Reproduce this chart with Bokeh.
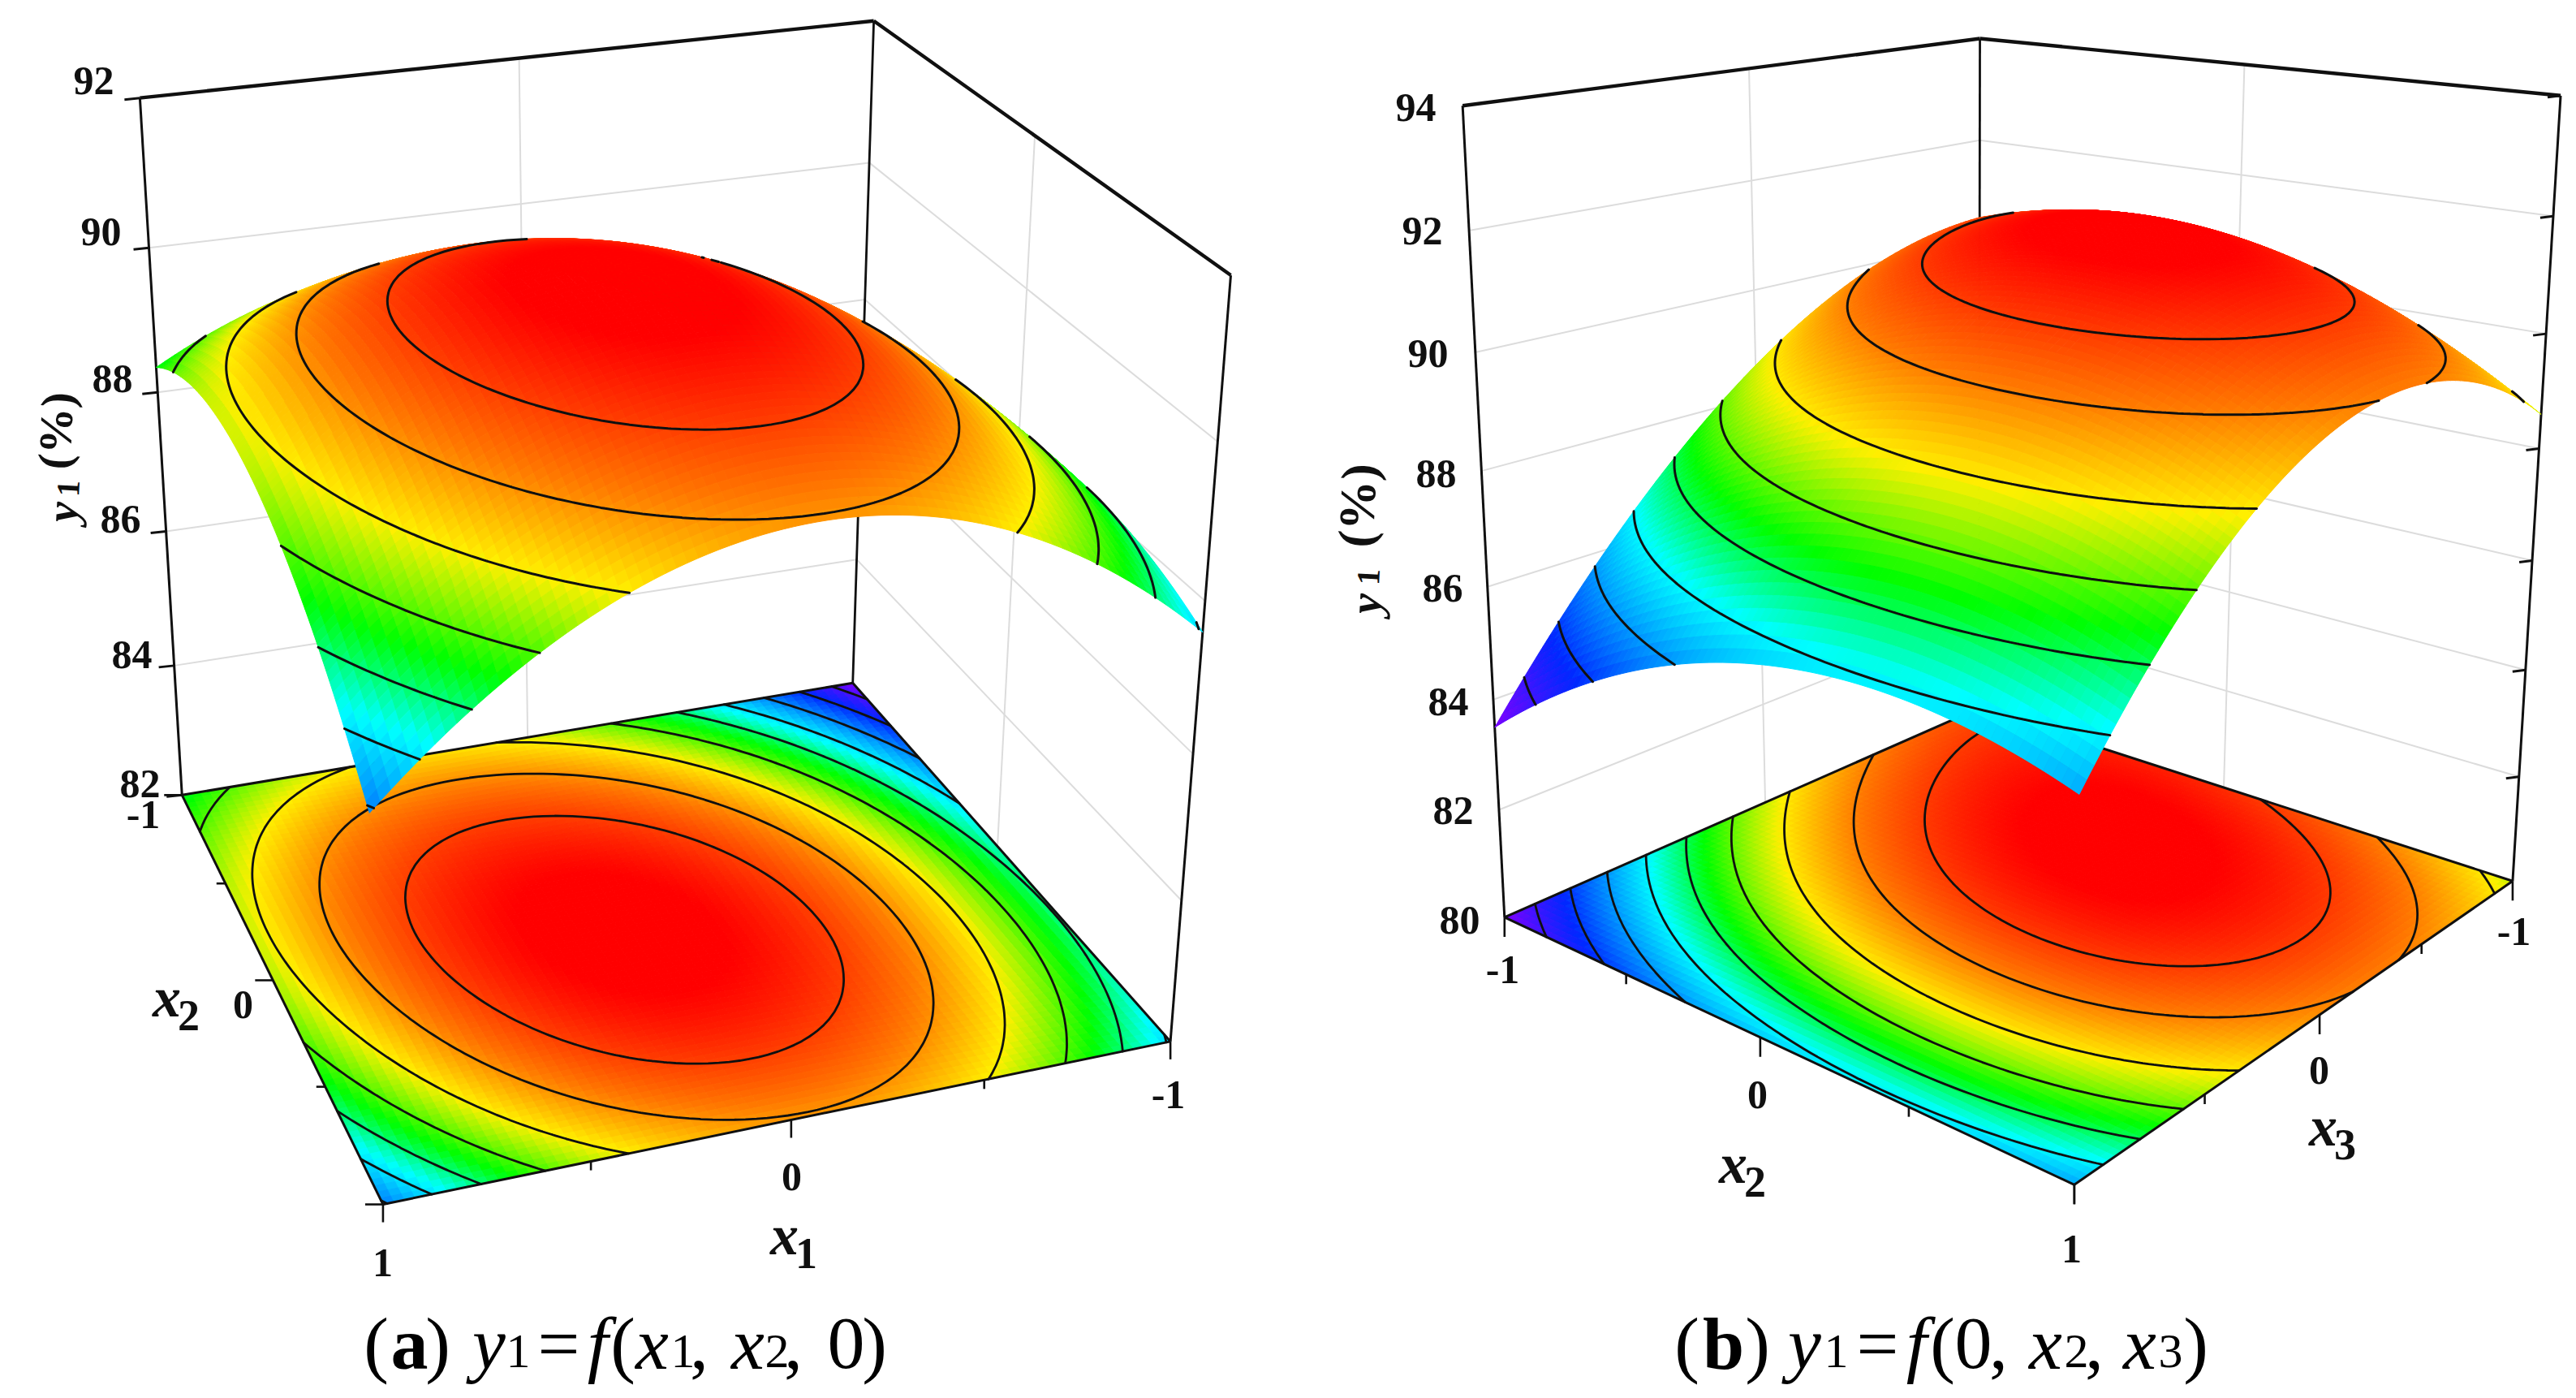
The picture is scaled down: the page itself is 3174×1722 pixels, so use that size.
import numpy as np
from bokeh.plotting import figure
from bokeh.models import Range1d
from bokeh.core.properties import value
from bokeh.embed import file_html
from bokeh.resources import INLINE

# ---- data ----------------------------------------------------------------
# panel (a): rows x1=-1,0,1 ; columns x2=-1,0,1
z_a = [[85.8, 87.95, 87.6],
       [89.15, 90.9, 89.75],
       [88.35, 89.0, 87.1]]
levels_a = [90.35, 89.8, 89.25, 88.7, 88.15, 87.65, 87.15, 86.65, 86.15]
zticks_a = [82, 84, 86, 88, 90, 92]
# panel (b): rows x2=-1,0,1 ; columns x3=-1,0,1
z_b = [[90.45, 88.6, 83.5],
       [90.8, 90.95, 86.2],
       [88.6, 89.75, 85.9]]
levels_b = [90.65, 89.9, 88.95, 88.1, 87.3, 86.54, 85.76, 84.98, 84.2]
zticks_b = [80, 82, 84, 86, 88, 90, 92, 94]
range_a = (85.8, 90.8)
range_b = (83.5, 91.3)

# ---- screen layout of the two boxes: (u, v, z) -> pixel --------------------
corners_a = [(1, -1, 92, 172, 120), (-1, -1, 92, 1076, 25), (-1, 1, 92, 1516, 339),
             (1, -1, 82, 224, 979), (-1, -1, 82, 1050, 841), (-1, 1, 82, 1442, 1282),
             (1, 1, 82, 471, 1483)]
corners_b = [(-1, 1, 94, 1801, 129), (-1, -1, 94, 2440, 47), (1, -1, 94, 3154, 118),
             (-1, 1, 80, 1855, 1130), (-1, -1, 80, 2436, 872), (1, -1, 80, 3097, 1084),
             (1, 1, 80, 2554, 1459)]

STOPS_T = [0.0, 0.17, 0.40, 0.53, 0.69, 0.83, 1.0]
STOPS_C = np.array([(128, 0, 255), (0, 40, 255), (0, 255, 255), (0, 255, 0),
                    (255, 240, 0), (255, 120, 0), (255, 0, 0)], float)


def cmap(z, rng):
    t = np.clip((np.asarray(z) - rng[0]) / (rng[1] - rng[0]), 0, 1)
    c = [np.interp(t, STOPS_T, STOPS_C[:, k]) for k in range(3)]
    return ["#%02x%02x%02x" % (int(r), int(g), int(b)) for r, g, b in zip(*[np.ravel(a) for a in c])]


class Cam:
    def __init__(self, pts, z0, z1):
        self.z0, self.z1 = z0, z1
        A = []
        for u, v, z, x, y in pts:
            Z = self.nz(z)
            A.append([u, v, Z, 1, 0, 0, 0, 0, -x * u, -x * v, -x * Z, -x])
            A.append([0, 0, 0, 0, u, v, Z, 1, -y * u, -y * v, -y * Z, -y])
        P = np.linalg.svd(np.array(A, float))[2][-1].reshape(3, 4)
        if P[2, 3] < 0:
            P = -P
        self.P = P

    def nz(self, z):
        return (np.asarray(z, float) - self.z0) / (self.z1 - self.z0) * 2 - 1

    def project(self, u, v, z):
        u, v, z = np.broadcast_arrays(np.asarray(u, float), np.asarray(v, float), self.nz(z))
        h = np.stack([u, v, z, np.ones_like(u)], axis=-1) @ self.P.T
        return h[..., 0] / h[..., 2], h[..., 1] / h[..., 2], h[..., 2]


def surface(T, u, v):
    def basis(t):
        return np.stack([t * (t - 1) / 2, 1 - t * t, t * (t + 1) / 2], axis=-1)
    return basis(u) @ np.asarray(T, float) @ basis(v).T


def contour(u, v, Z, levels):
    segs = []
    n, m = Z.shape
    for L in levels:
        above = Z >= L
        for i in range(n - 1):
            for j in range(m - 1):
                s = int(above[i, j]) + int(above[i + 1, j]) + int(above[i + 1, j + 1]) + int(above[i, j + 1])
                if s == 0 or s == 4:
                    continue
                pts = []
                for (a, b, c, d) in ((i, j, i + 1, j), (i + 1, j, i + 1, j + 1),
                                     (i + 1, j + 1, i, j + 1), (i, j + 1, i, j)):
                    if above[a, b] != above[c, d]:
                        f = (L - Z[a, b]) / (Z[c, d] - Z[a, b])
                        pts.append((u[a] + f * (u[c] - u[a]), v[b] + f * (v[d] - v[b])))
                for k in range(0, len(pts) - 1, 2):
                    segs.append((pts[k], pts[k + 1], L, i, j))
    return segs


def draw_mesh(p, cam, u, v, Zval, Zgeom, rng):
    X, Y, W = cam.project(u[:, None], v[None, :], Zgeom)
    xs, ys, cols, depth = [], [], [], []
    cc = cmap((Zval[:-1, :-1] + Zval[1:, :-1] + Zval[:-1, 1:] + Zval[1:, 1:]) / 4, rng)
    k = 0
    for i in range(len(u) - 1):
        for j in range(len(v) - 1):
            xs.append([X[i, j], X[i + 1, j], X[i + 1, j + 1], X[i, j + 1]])
            ys.append([Y[i, j], Y[i + 1, j], Y[i + 1, j + 1], Y[i, j + 1]])
            depth.append(W[i, j] + W[i + 1, j + 1])
            cols.append(cc[k])
            k += 1
    order = np.argsort(depth)[::-1]
    p.patches([xs[o] for o in order], [ys[o] for o in order],
              fill_color=[cols[o] for o in order], line_color=[cols[o] for o in order], line_width=1.0)
    return X, Y


def signed_area(X, Y, i, j):
    xq = [X[i, j], X[i + 1, j], X[i + 1, j + 1], X[i, j + 1]]
    yq = [Y[i, j], Y[i + 1, j], Y[i + 1, j + 1], Y[i, j + 1]]
    return sum(xq[k] * yq[(k + 1) % 4] - xq[(k + 1) % 4] * yq[k] for k in range(4))


def draw_contours(p, cam, segs, zfn, X=None, Y=None, sign=None, width=2.6):
    xs, ys = [], []
    for (a, b, L, i, j) in segs:
        if X is not None and signed_area(X, Y, i, j) * sign <= 0:
            continue
        x, y, _ = cam.project([a[0], b[0]], [a[1], b[1]], [zfn(L), zfn(L)])
        xs += [x[0], x[1], np.nan]
        ys += [y[0], y[1], np.nan]
    p.line(xs, ys, line_color="#101010", line_width=width, line_cap="round")


p = figure(width=3158, height=1706, x_range=Range1d(0, 3158), y_range=Range1d(1706, 0),
           output_backend="svg", toolbar_location=None, min_border=0,
           x_axis_location=None, y_axis_location=None)
p.outline_line_color = None
p.grid.visible = False

SERIF = value("Liberation Serif")


def label(x, y, s, size=50, style="bold", angle=0.0, color="#101010", baseline="middle"):
    p.text([x], [y], text=[s], text_font=SERIF, text_font_size=f"{size}px", text_font_style=style,
           text_align="center", text_baseline=baseline, angle=angle, text_color=color)


GRID = "#dcdcdc"


def panel(T, levels, zticks, corners, rng, u_tick_dir, v_tick_dir, z_tick):
    z0, z1 = zticks[0], zticks[-1]
    cam = Cam(corners, z0, z1)
    lines = lambda a, b, **k: p.line(*cam.project(*[[a[q], b[q]] for q in range(3)])[:2], **k)
    for z in zticks[1:-1]:
        lines((1, -1, z), (-1, -1, z), line_color=GRID, line_width=2)
        lines((-1, -1, z), (-1, 1, z), line_color=GRID, line_width=2)
    lines((0, -1, z0), (0, -1, z1), line_color=GRID, line_width=2)
    lines((-1, 0, z0), (-1, 0, z1), line_color=GRID, line_width=2)
    lines((-1, -1, z0), (-1, -1, z1), line_color="#101010", line_width=2.8)
    lines((1, -1, z0), (1, -1, z1), line_color="#101010", line_width=3)
    lines((-1, 1, z0), (-1, 1, z1), line_color="#101010", line_width=3)
    lines((1, -1, z1), (-1, -1, z1), line_color="#101010", line_width=4.4)
    lines((-1, -1, z1), (-1, 1, z1), line_color="#101010", line_width=4.4)
    for z in zticks:
        x, y, _ = cam.project(1, -1, z)
        p.line([float(x) - z_tick, float(x)], [float(y) + 2, float(y)], line_color="#101010", line_width=3)
    n = 80
    u = np.linspace(-1, 1, n + 1)
    v = np.linspace(-1, 1, n + 1)
    Z = surface(T, u, v)
    fx, fy = draw_mesh(p, cam, u, v, Z, np.full_like(Z, z0), rng)
    segs = contour(u, v, Z, levels)
    draw_contours(p, cam, segs, lambda L: z0, width=2.8)
    for a, b in (((1, -1), (1, 1)), ((1, 1), (-1, 1)), ((-1, 1), (-1, -1)), ((-1, -1), (1, -1))):
        lines((*a, z0), (*b, z0), line_color="#101010", line_width=3)
    for t in (-1, -.5, 0, .5, 1):
        L = 1.0 if t in (-1, 0, 1) else 0.5
        x, y, _ = cam.project(t, 1, z0)
        p.line([float(x), float(x) + u_tick_dir[0] * L], [float(y), float(y) + u_tick_dir[1] * L],
               line_color="#101010", line_width=2.6)
        x, y, _ = cam.project(1, t, z0)
        p.line([float(x), float(x) + v_tick_dir[0] * L], [float(y), float(y) + v_tick_dir[1] * L],
               line_color="#101010", line_width=2.6)
    sx, sy = draw_mesh(p, cam, u, v, Z, Z, rng)
    sign = np.sign(signed_area(fx, fy, n // 2, n // 2))
    draw_contours(p, cam, segs, lambda L: L, sx, sy, sign, width=3.0)


panel(z_a, levels_a, zticks_a, corners_a, range_a, (0, 22), (-22, 0), 19)
panel(z_b, levels_b, zticks_b, corners_b, range_b, (0, 24), (0, 24), 16)

# ---- tick labels ---------------------------------------------------------
for s, x, y in zip(zticks_a[::-1], [115, 124, 138, 148, 162, 172], [99, 285, 466, 639, 806, 965]):
    label(x, y, str(s))
for s, x, y in zip(zticks_b[::-1], [1744, 1752, 1759, 1769, 1777, 1784, 1790, 1798],
                   [132, 284, 435, 583, 724, 864, 998, 1133]):
    label(x, y, str(s))
for s, x, y in [("-1", 176, 1003), ("0", 299, 1237), ("0", 975, 1449), ("1", 471, 1555), ("-1", 1439, 1348),
                ("-1", 1851, 1194), ("0", 2165, 1348), ("1", 2552, 1538), ("0", 2857, 1318), ("-1", 3097, 1147)]:
    label(x, y, s)


def axis_name(x, y, base, sub):
    label(x, y, base, size=70, style="bold italic")
    label(x + 27, y + 22, sub, size=54, style="bold")


axis_name(205, 1228, "x", "2")
axis_name(966, 1521, "x", "1")
axis_name(2135, 1433, "x", "2")
axis_name(2862, 1387, "x", "3")

# rotated y1 (%)
A = np.radians(87)
for (yx, yy), (ox, oy), (px_, py_), sz in (((76, 630), (84, 601), (68, 530), 57),
                                           ((1682, 743), (1686, 710), (1672, 622), 62)):
    label(yx, yy, "y", size=56, style="bold italic", angle=A)
    label(ox, oy, "1", size=40, angle=A)
    label(px_, py_, "(%)", size=sz, angle=A)

# ---- captions: absolute centre x of each run --------------------------------
BIG = 92
SUB = 60
CAP_Y = {BIG: 1654, SUB: 1664}
cap_a = [(463, "(", "normal", BIG), (504, "a", "bold", BIG), (539, ")", "normal", BIG), (602, "y", "italic", BIG),
         (638, "1", "normal", SUB), (688, "=", "normal", BIG), (736, "f", "italic", BIG), (767, "(", "normal", BIG),
         (803, "x", "italic", BIG), (841, "1", "normal", SUB), (861, ",", "normal", BIG), (921, "x", "italic", BIG),
         (957, "2", "normal", SUB), (977, ",", "normal", BIG), (1042, "0", "normal", BIG), (1077, ")", "normal", BIG)]
cap_b = [(2078, "(", "normal", BIG), (2123, "b", "bold", BIG), (2165, ")", "normal", BIG), (2223, "y", "italic", BIG),
         (2262, "1", "normal", SUB), (2313, "=", "normal", BIG), (2361, "f", "italic", BIG), (2393, "(", "normal", BIG),
         (2431, "0", "normal", BIG), (2462, ",", "normal", BIG), (2520, "x", "italic", BIG), (2558, "2", "normal", SUB),
         (2580, ",", "normal", BIG), (2636, "x", "italic", BIG), (2674, "3", "normal", SUB), (2705, ")", "normal", BIG)]
for x, s, st, sz in cap_a + cap_b:
    label(x, CAP_Y[sz], s, size=sz, style=st, color="#000000")

open("out.html", "w").write(file_html(p, INLINE))
